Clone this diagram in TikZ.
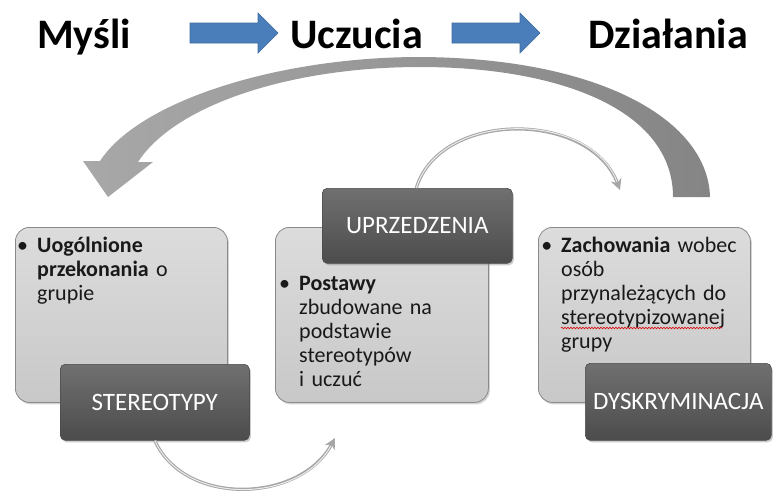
\documentclass[tikz,border=0pt]{standalone}
\usepackage{fontspec}
\setmainfont{Carlito}
\usetikzlibrary{arrows.meta,shadows,decorations.pathmorphing}
\definecolor{arrowblue}{HTML}{4A7EBB}
\definecolor{lighttop}{HTML}{DCDCDC}
\definecolor{lightbot}{HTML}{C8C8C8}
\definecolor{boxedge}{HTML}{8A8A8A}
\definecolor{darktop}{HTML}{707070}
\definecolor{darkbot}{HTML}{4C4C4C}
\definecolor{darkedge}{HTML}{4A4A4A}
\definecolor{arcleft}{HTML}{A8A8A8}
\definecolor{arcright}{HTML}{858585}
\begin{document}
\begin{tikzpicture}[x=1pt,y=-1pt,
  title/.style={font=\fontsize{42}{48}\selectfont\bfseries, anchor=base west, inner sep=0pt},
  blockarrow/.style={fill=arrowblue, draw=arrowblue!85!black, line width=0.6pt},
  lightbox/.style={draw=boxedge, line width=0.8pt, rounded corners=14pt,
    top color=lighttop, bottom color=lightbot, inner sep=0pt, anchor=north west,
    drop shadow={opacity=0.35, shadow xshift=1.5pt, shadow yshift=-2pt}},
  darkbox/.style={draw=darkedge, line width=0.6pt, rounded corners=5pt,
    top color=darktop, bottom color=darkbot, text=white, inner sep=0pt, anchor=north west,
    font=\fontsize{25}{30}\selectfont,
    drop shadow={opacity=0.4, shadow xshift=1.5pt, shadow yshift=-2pt}},
  bodytext/.style={font=\fontsize{22}{24}\selectfont, anchor=base west, inner sep=0pt,
    text width=200pt, align=left, text=black!90},
  tube/.style={draw=gray!70, line width=3.2pt, -{Stealth[length=11pt,width=11pt]},
    postaction={draw=gray!15, line width=1pt, -, shorten >=9pt}},
  wavy/.style={draw=red!85!black, line width=0.6pt, decorate,
    decoration={snake, amplitude=0.8pt, segment length=3pt}}
]
\useasboundingbox (0,0) rectangle (773,490);

% titles
\node[title] (myslі) at (37,48) {Myśli};
\node[title] (uczucia) at (290,48) {Uczucia};
\node[title] (dzialania) at (588,48) {Działania};

% blue block arrows
\filldraw[blockarrow] (190,23) -- (258,23) -- (258,13) -- (278,33) -- (258,53) -- (258,43) -- (190,43) -- cycle;
\filldraw[blockarrow] (452,23) -- (520,23) -- (520,13) -- (540,33) -- (520,53) -- (520,43) -- (452,43) -- cycle;

% big curved grey arrow
\shade[left color=arcleft, right color=arcright]
  (710,197) .. controls (708,120) and (600,58) .. (420,57)
  .. controls (280,57) and (140,100) .. (100,161)
  -- (83,161) -- (108,197) -- (153,162) -- (138,162)
  .. controls (175,105) and (290,67) .. (420,67)
  .. controls (560,67) and (673,110) .. (673,197) -- cycle;

% light boxes
\node[lightbox, minimum width=212pt, minimum height=175pt] (b1) at (15,227) {};
\node[lightbox, minimum width=213pt, minimum height=175pt] (b2) at (275,227) {};
\node[lightbox, minimum width=212pt, minimum height=175pt] (b3) at (538,227) {};

% body texts
\node[bodytext] (t1) at (37,252) {\llap{•\hspace{9pt}}\textbf{Uogólnione}\\\textbf{przekonania} o\\grupie};
\node[bodytext] (t2) at (299,290) {\llap{•\hspace{9pt}}\textbf{Postawy}\\zbudowane na\\podstawie\\stereotypów\\i uczuć};
\node[bodytext] (t3) at (561,252) {\llap{•\hspace{9pt}}\textbf{Zachowania} wobec\\osób\\przynależących do\\stereotypizowanej\\grupy};
\draw[wavy] (561,328) -- (722,328);

% connector coordinates
\coordinate (e1) at (620,190);
\coordinate (e2) at (335,438);

% dark boxes
\node[darkbox, minimum width=190pt, minimum height=75pt] (upr) at (322,188) {UPRZEDZENIA};
\node[darkbox, minimum width=189pt, minimum height=76pt] (ster) at (60,364) {STEREOTYPY};
\node[darkbox, minimum width=186pt, minimum height=77pt] (dysk) at (585,363) {DYSKRYMINACJA};

% small curved arrows
\draw[tube] ([xshift=-1pt]upr.north) .. controls (440,110) and (590,110) .. (e1);
\draw[tube] (ster.south) .. controls (185,507) and (300,503) .. (e2);
\end{tikzpicture}
\end{document}
